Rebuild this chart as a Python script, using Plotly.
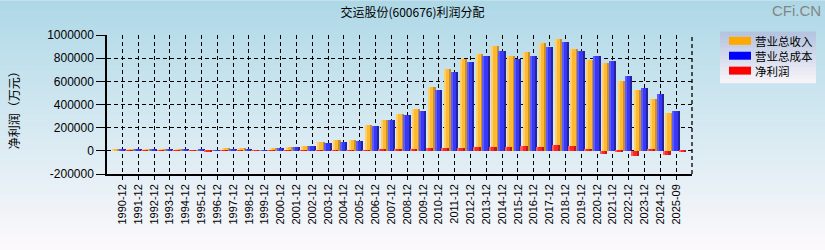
import plotly.graph_objects as go

# ---- data (万元) ----
categories = ['1990-12', '1991-12', '1992-12', '1993-12', '1994-12', '1995-12', '1996-12',
              '1997-12', '1998-12', '1999-12', '2000-12', '2001-12', '2002-12', '2003-12',
              '2004-12', '2005-12', '2006-12', '2007-12', '2008-12', '2009-12', '2010-12',
              '2011-12', '2012-12', '2013-12', '2014-12', '2015-12', '2016-12', '2017-12',
              '2018-12', '2019-12', '2020-12', '2021-12', '2022-12', '2023-12', '2024-12',
              '2025-09']
revenue = [9000, 10000, 18000, 9000, 15000, 6000, 6000,
           25000, 25000, 6000, 23000, 31000, 40000, 74000,
           91000, 91000, 225000, 266000, 319000, 362000, 550000,
           704000, 789000, 840000, 903000, 823000, 849000, 934000,
           969000, 875000, 781000, 755000, 601000, 524000, 447000,
           328000]
cost = [8000, 9000, 10000, 9000, 10000, 15000, 5000,
        15000, 15000, 6000, 23000, 31000, 40000, 66000,
        74000, 83000, 213000, 265000, 311000, 345000, 524000,
        678000, 765000, 817000, 866000, 789000, 815000, 900000,
        943000, 866000, 815000, 772000, 644000, 541000, 490000,
        345000]
net_profit = [1000, 1000, 1500, 1000, 3000, -6000, 1000,
              3000, 4000, 2000, 3000, 4000, 4000, 5000,
              5000, 6000, 14000, 17000, 20000, 28000, 28000,
              28000, 35000, 35000, 35000, 44000, 35000, 52000,
              44000, 20000, -23000, -5000, -48000, 11000, -40000,
              -8000]
series_names = ['营业总收入', '营业总成本', '净利润']
y_tick_vals = [-200000, 0, 200000, 400000, 600000, 800000, 1000000]
y_tick_text = ['-200000', '0', '200000', '400000', '600000', '800000', '1000000']
title_text = '交运股份(600676)利润分配'
y_title = '净利润（万元）'

# ---- layout geometry (pixels) ----
W, H = 825, 250
L, R, T, B = 107, 692, 34.5, 174
pw, ph = R - L, B - T


def px_x(px):
    return (px - L) / pw


def px_y(py):
    return (B - py) / ph


def lerp(c1, c2, t):
    return tuple(round(a + (b - a) * t) for a, b in zip(c1, c2))


xidx = list(range(len(categories)))

# series style: (values, name, offset, width, main colour, light colour, dark colour, legend colour)
series = [
    (revenue, series_names[0], -0.65, 0.44, '#FFB830', '#FFD068', '#C8902C', '#FFA800'),
    (cost, series_names[1], -0.21, 0.43, '#3838F6', '#5C5CFF', '#24249E', '#0000FF'),
    (net_profit, series_names[2], 0.19, 0.46, '#FF2626', '#FF5A5A', '#B81C1C', '#FF0000'),
]

fig = go.Figure()
for vals, name, off, w, c_main, c_light, c_dark, c_leg in series:
    fig.add_trace(go.Bar(x=xidx, y=vals, name=name, width=w, offset=off,
                         marker=dict(color=c_main, line=dict(width=0)),
                         showlegend=False))
    # cylinder-like shading: light left strip, dark right strip
    fig.add_trace(go.Bar(x=xidx, y=vals, name=name, width=w * 0.22, offset=off,
                         marker=dict(color=c_light, line=dict(width=0)),
                         showlegend=False, hoverinfo='skip'))
    fig.add_trace(go.Bar(x=xidx, y=vals, name=name, width=w * 0.3, offset=off + w * 0.7,
                         marker=dict(color=c_dark, line=dict(width=0)),
                         showlegend=False, hoverinfo='skip'))

shapes = []
# background gradient (whole figure)
top_c, bot_c = (174, 216, 231), (252, 249, 251)
n = 50
for i in range(n):
    y0 = i * H / n
    y1 = (i + 1) * H / n + 0.6
    c = lerp(top_c, bot_c, (i + 0.5) / n)
    shapes.append(dict(type='rect', xref='paper', yref='paper', layer='below',
                       x0=px_x(0), x1=px_x(W), y0=px_y(y1), y1=px_y(y0),
                       fillcolor='rgb(%d,%d,%d)' % c, line=dict(width=0)))
# legend background gradient
lx0, lx1, ly0, ly1 = 720, 816, 31, 83
m = 13
for i in range(m):
    y0 = ly0 + i * (ly1 - ly0) / m
    y1 = ly0 + (i + 1) * (ly1 - ly0) / m + 0.5
    c = lerp((178, 194, 222), (250, 246, 250), (i + 0.5) / m)
    shapes.append(dict(type='rect', xref='paper', yref='paper', layer='below',
                       x0=px_x(lx0), x1=px_x(lx1), y0=px_y(min(y1, ly1)), y1=px_y(y0),
                       fillcolor='rgb(%d,%d,%d)' % c, line=dict(width=0)))
# right edge dashed line
shapes.append(dict(type='line', xref='paper', yref='paper', x0=1, x1=1, y0=0, y1=1,
                   line=dict(color='black', width=1.3, dash='4px,3px')))

annotations = [
    dict(text=y_title, xref='paper', yref='paper', x=px_x(13), y=px_y(107),
         textangle=-90, showarrow=False, xanchor='center', yanchor='middle',
         font=dict(family='Noto Sans CJK SC', size=12, color='black')),
    dict(text='CFi.CN', xref='paper', yref='paper', x=px_x(823), y=px_y(10),
         showarrow=False, xanchor='right', yanchor='middle',
         font=dict(family='Liberation Sans', size=15, color='#858585')),
]
# custom legend: swatches + one multi-line label block
leg_font = 11.5
leg_step = leg_font * 1.3
leg_mid = 55.3
legend_rows = [leg_mid - leg_step, leg_mid, leg_mid + leg_step]
for s, ry in zip(series, legend_rows):
    shapes.append(dict(type='rect', xref='paper', yref='paper', layer='above',
                       x0=px_x(729), x1=px_x(751), y0=px_y(ry + 4), y1=px_y(ry - 4),
                       fillcolor=s[7], line=dict(width=0)))
annotations.append(dict(text='<br>'.join(series_names), xref='paper', yref='paper',
                        x=px_x(754), y=px_y(leg_mid), showarrow=False,
                        xanchor='left', yanchor='middle', align='left', borderpad=0,
                        font=dict(family='Noto Sans CJK SC', size=leg_font, color='black')))

fig.update_layout(
    width=W, height=H, autosize=False,
    margin=dict(l=L, r=W - R, t=T, b=H - B, pad=0),
    paper_bgcolor='rgb(214,233,241)', plot_bgcolor='rgba(0,0,0,0)',
    barmode='overlay', bargap=0,
    shapes=shapes,
    showlegend=False,
    title=dict(text=title_text, x=0.5, xref='container', xanchor='center',
               y=1 - 13 / H, yref='container', yanchor='middle',
               font=dict(family='Noto Sans CJK SC', size=12, color='black')),
    annotations=annotations,
)

fig.update_xaxes(
    range=[-0.97, 36.0], tickmode='array', tickvals=xidx, ticktext=categories,
    tickangle=-90, tickfont=dict(family='Liberation Sans', size=11, color='black'),
    showgrid=True, gridcolor='black', gridwidth=1.3, griddash='4px,3px',
    showline=True, linecolor='black', linewidth=1.5,
    ticks='outside', ticklen=4, tickcolor='black', tickwidth=1,
    zeroline=False, fixedrange=True,
)
fig.update_yaxes(
    range=[-200000, 1000000], tickmode='array', tickvals=y_tick_vals, ticktext=y_tick_text,
    tickfont=dict(family='Liberation Sans', size=12, color='black'),
    showgrid=True, gridcolor='black', gridwidth=1.3, griddash='4px,3px',
    showline=True, linecolor='black', linewidth=1.5,
    ticks='outside', ticklen=9, tickcolor='black', tickwidth=1,
    zeroline=False, fixedrange=True,
)

fig.write_html('out.html')
